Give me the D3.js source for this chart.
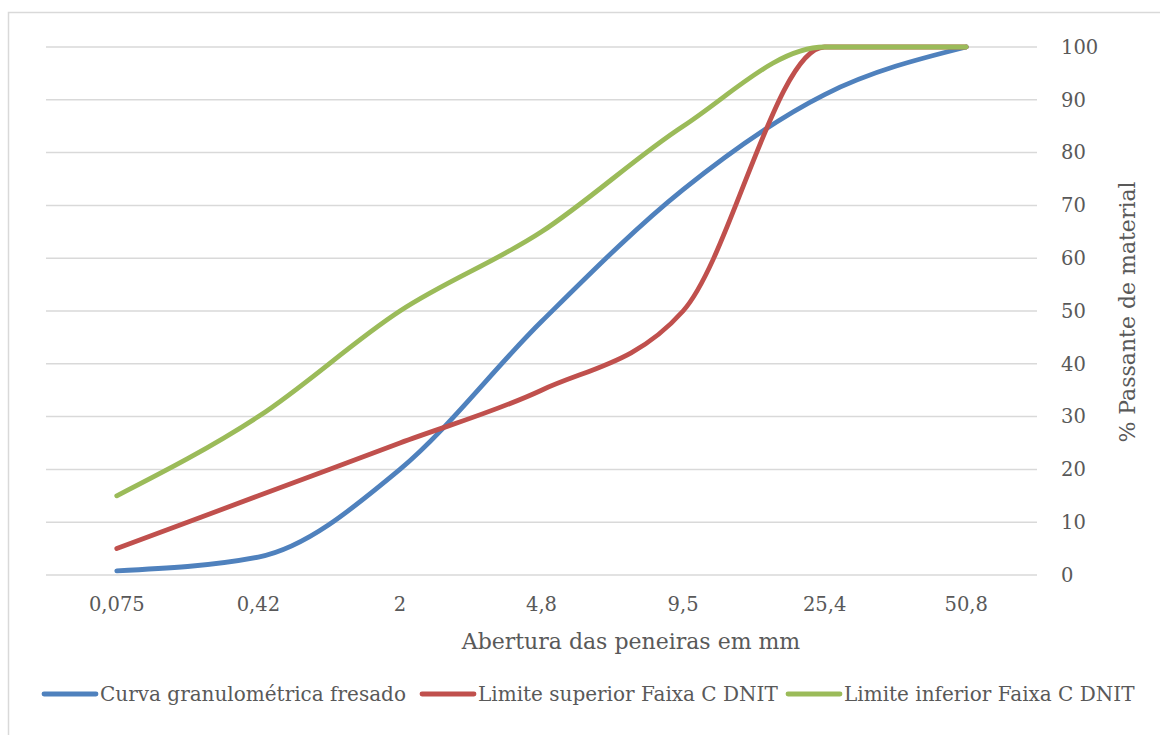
<!DOCTYPE html>
<html><head><meta charset="utf-8">
<script src="https://cdn.jsdelivr.net/npm/d3@7"></script>
<style>body{margin:0;background:#fff}svg{display:block}text{font-family:"DejaVu Serif",serif;fill:#595959}</style>
</head><body>
<svg id="c" width="1160" height="735"></svg>
<script>
const categories = ["0,075","0,42","2","4,8","9,5","25,4","50,8"];
const curvaFresado = [0.8, 3.4, 20, 48, 73, 91, 100];
const limiteSuperior = [5, 15, 25, 35, 50, 100, 100];
const limiteInferior = [15, 30, 50, 65, 85, 100, 100];
const yTicks = [0,10,20,30,40,50,60,70,80,90,100];
const seriesNames = ["Curva granulométrica fresado","Limite superior Faixa C DNIT","Limite inferior Faixa C DNIT"];
const colors = ["#4F81BD","#C0504D","#9BBB59"];

const svg = d3.select("#c");
// frame
svg.append("path").attr("d","M8.5,735 V12.5 H1160").attr("fill","none").attr("stroke","#D9D9D9").attr("stroke-width",1.5);

const x = d3.scaleBand().domain(categories).range([46,1037]).padding(0);
const y = d3.scaleLinear().domain([0,100]).range([575,47]);

// gridlines
svg.append("g").selectAll("line").data(yTicks).join("line")
  .attr("x1",46).attr("x2",1037).attr("y1",d=>y(d)).attr("y2",d=>y(d))
  .attr("stroke","#D9D9D9").attr("stroke-width",1.5);

// y axis labels (right)
const yAxis = d3.axisRight(y).tickValues(yTicks).tickSize(0).tickPadding(0);
const gy = svg.append("g").attr("transform","translate(1061,0)").call(yAxis);
gy.select(".domain").remove();
gy.selectAll("text").attr("font-size",19.5).style("font-family","DejaVu Serif").attr("fill","#595959");

// x axis labels
const xAxis = d3.axisBottom(x).tickSize(0).tickPadding(0);
const gx = svg.append("g").attr("transform","translate(0,597)").call(xAxis);
gx.select(".domain").remove();
gx.selectAll("text").attr("font-size",19.5).style("font-family","DejaVu Serif").attr("fill","#595959");

// titles
svg.append("text").attr("x",631).attr("y",649).attr("text-anchor","middle").attr("font-size",22).text("Abertura das peneiras em mm");
svg.append("text").attr("transform","translate(1135,312) rotate(-90)").attr("text-anchor","middle").attr("font-size",22).text("% Passante de material");

// lines
const line = d3.line().x((d,i)=>x(categories[i])+x.bandwidth()/2).y(d=>y(d)).curve(d3.curveMonotoneX);
[curvaFresado, limiteSuperior, limiteInferior].forEach((s,i)=>{
  svg.append("path").attr("d",line(s)).attr("fill","none").attr("stroke",colors[i])
    .attr("stroke-width",4.8).attr("stroke-linecap","round").attr("stroke-linejoin","round");
});

// legend
const legX = [42, 420, 786];
seriesNames.forEach((n,i)=>{
  const g = svg.append("g").attr("transform",`translate(${legX[i]},694)`);
  g.append("line").attr("x1",2).attr("x2",54).attr("stroke",colors[i]).attr("stroke-width",4.8).attr("stroke-linecap","round");
  g.append("text").attr("x",58).attr("y",7).attr("font-size",20).text(n);
});
</script>
</body></html>
